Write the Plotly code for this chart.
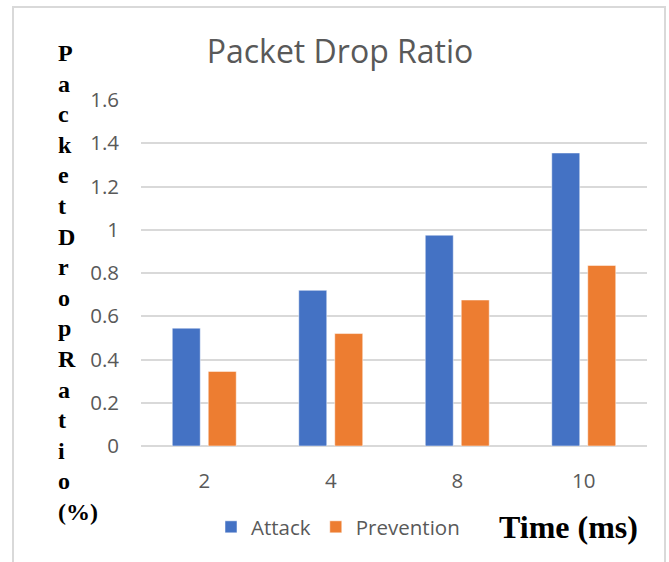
import plotly.graph_objects as go

categories = ["2", "4", "8", "10"]
attack = [0.545, 0.72, 0.975, 1.355]
prevention = [0.345, 0.52, 0.675, 0.835]
y_ticks = [0, 0.2, 0.4, 0.6, 0.8, 1.0, 1.2, 1.4, 1.6]
y_tick_labels = ["0", "0.2", "0.4", "0.6", "0.8", "1", "1.2", "1.4", "1.6"]
title_text = "Packet Drop Ratio"
y_title_lines = ["P", "a", "c", "k", "e", "t", "D", "r", "o", "p", "R", "a", "t", "i", "o", "(%)"]
x_title = "Time (ms)"

W, H = 669, 562
L, R, T, B = 141, 22, 100, 116
pw, ph = W - L - R, H - T - B

def px_x(p):
    return (p - L) / pw

def px_y(p):
    return (H - B - p) / ph

grey = "#595959"
sans = "Open Sans"
serif = "Liberation Serif"

fig = go.Figure()
fig.add_trace(go.Bar(x=categories, y=attack, name="Attack",
                     marker=dict(color="#4472C4", line=dict(color="rgba(255,255,255,0.5)", width=1))))
fig.add_trace(go.Bar(x=categories, y=prevention, name="Prevention",
                     marker=dict(color="#ED7D31", line=dict(color="rgba(255,255,255,0.5)", width=1))))

# vertical stacked-letter y title (one line per letter)
first_y, step = 53, 30.6
for i, s in enumerate(y_title_lines):
    fig.add_annotation(text=f"<b>{s}</b>", xref="paper", yref="paper",
                       x=px_x(56), y=px_y(first_y + i * step),
                       xanchor="left", yanchor="middle", showarrow=False,
                       font=dict(family=serif, size=24, color="black"))

fig.add_annotation(text=f"<b>{x_title}</b>", xref="paper", yref="paper",
                   x=px_x(568), y=px_y(527), xanchor="center", yanchor="middle",
                   showarrow=False, font=dict(family=serif, size=32, color="black"))

# outer chart frame
fig.add_shape(type="rect", xref="paper", yref="paper",
              x0=px_x(13), x1=px_x(665), y0=px_y(575), y1=px_y(7),
              line=dict(color="#D9D9D9", width=2), fillcolor="rgba(0,0,0,0)", layer="below")

fig.update_layout(
    width=W, height=H,
    margin=dict(l=L, r=R, t=T, b=B),
    paper_bgcolor="white", plot_bgcolor="white",
    title=dict(text=title_text, x=340 / W, y=1 - 52 / H, xref="container", yref="container",
               xanchor="center", yanchor="middle",
               font=dict(family=sans, size=32, color=grey)),
    barmode="group", bargap=0.431, bargroupgap=0.222,
    font=dict(family=sans, color=grey),
    showlegend=True,
    legend=dict(orientation="h", x=px_x(211), y=px_y(527), xanchor="left", yanchor="middle",
                font=dict(family=sans, size=20.5, color=grey), bgcolor="rgba(0,0,0,0)"),
    xaxis=dict(type="category", showgrid=False, showline=False, ticks="",
               tickfont=dict(family=sans, size=20.5, color=grey), ticklabelstandoff=20),
    yaxis=dict(range=[0, 1.6], tickvals=y_ticks, ticktext=y_tick_labels,
               showgrid=True, gridcolor="#D9D9D9", gridwidth=1.5,
               zeroline=True, zerolinecolor="#D9D9D9", zerolinewidth=1.5,
               showline=False, ticks="",
               tickfont=dict(family=sans, size=20.5, color=grey), ticklabelstandoff=21),
)

fig.write_html("out.html")
